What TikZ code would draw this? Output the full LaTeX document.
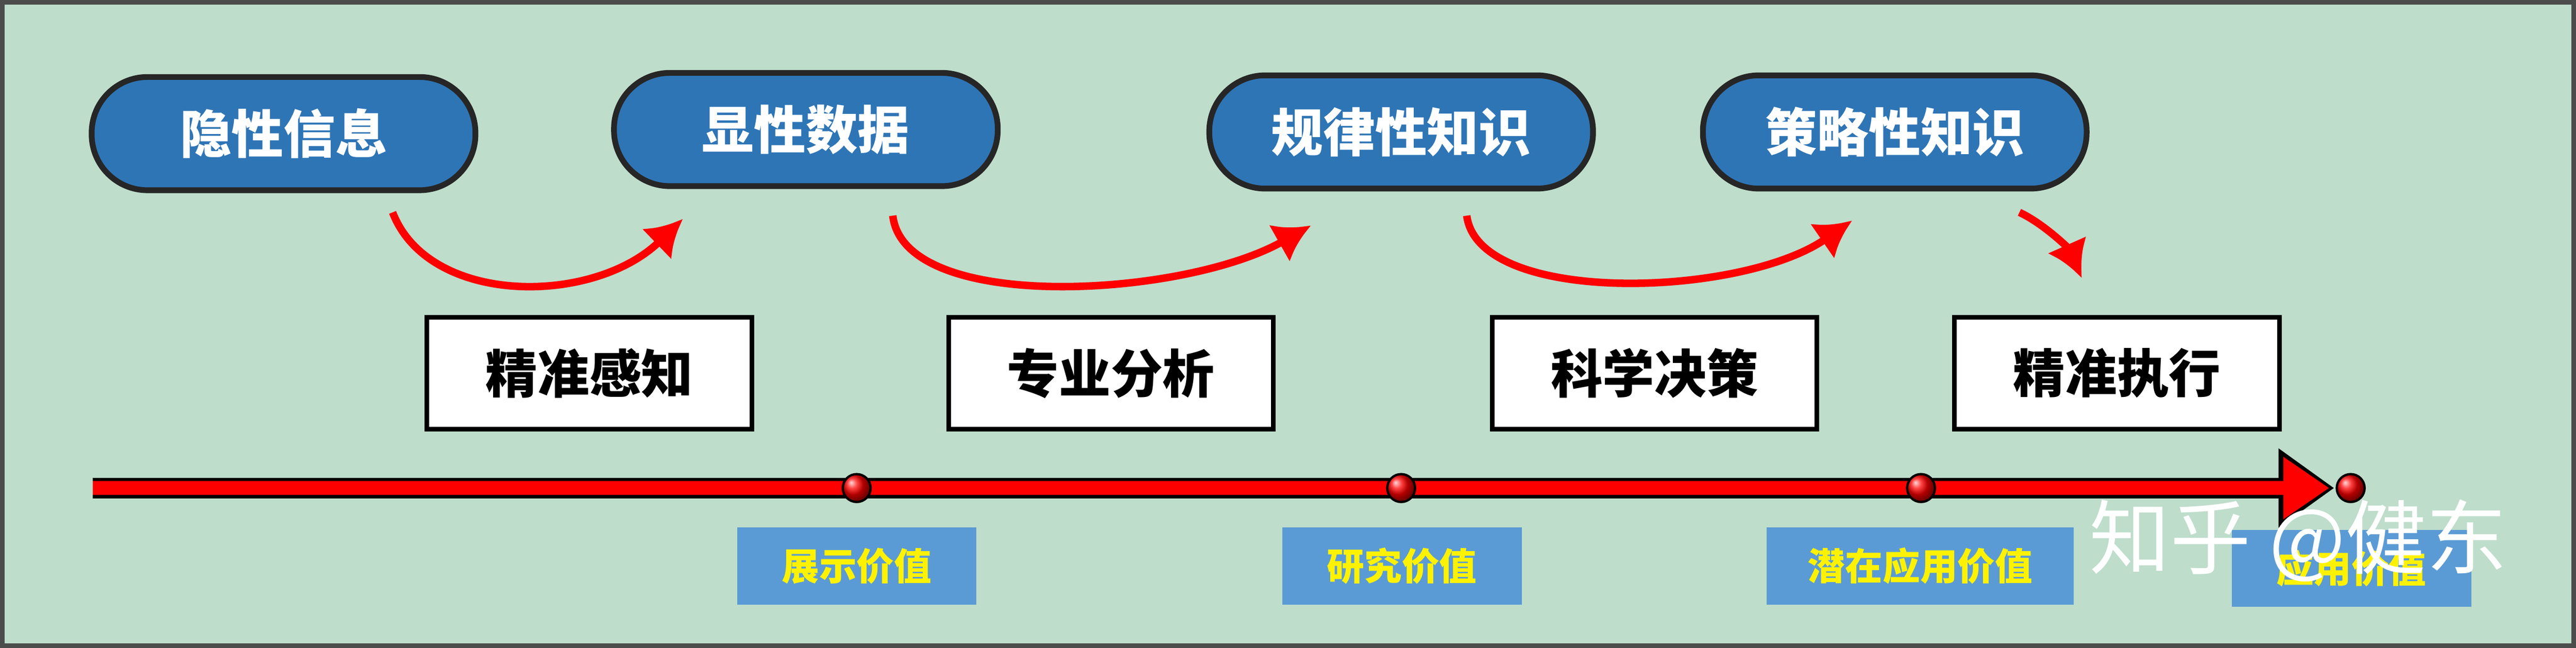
\documentclass[tikz,border=0pt]{standalone}
\usepackage{fontspec}
\setmainfont{Noto Sans CJK SC}
\usetikzlibrary{arrows.meta,shadings}
\definecolor{bgc}{HTML}{BEDDCB}
\definecolor{ovalc}{HTML}{2E75B6}
\definecolor{labc}{HTML}{5B9BD5}
\tikzset{
  stage/.style={draw=black!85,line width=1pt,fill=ovalc,rounded corners=0.34cm,minimum width=2.34cm,minimum height=0.69cm,text=white,font=\bfseries\fontsize{9}{9}\selectfont},
  task/.style={draw=black,line width=0.8pt,fill=white,minimum width=1.98cm,minimum height=0.68cm,font=\bfseries\fontsize{9}{9}\selectfont},
  worth/.style={fill=labc,minimum width=1.46cm,minimum height=0.47cm,text=yellow,font=\bfseries\fontsize{6.5}{6.5}\selectfont},
  curl/.style={red,line width=1.3pt,-{Latex[length=2.2mm,width=2.6mm]}},
  dot/.style={circle,inner sep=0pt,minimum size=0.17cm,ball color=red,draw=black,line width=0.4pt}
}
\begin{document}
\begin{tikzpicture}
\draw[fill=bgc,draw=black!70,line width=0.8pt] (0,0) rectangle (15.68,-3.92);
% stages
\node[stage] (s1) at (1.715,-0.80) {隐性信息};
\node[stage] (s2) at (4.90,-0.775) {显性数据};
\node[stage] (s3) at (8.53,-0.79) {规律性知识};
\node[stage] (s4) at (11.54,-0.79) {策略性知识};
% steps
\node[task] (p1) at (3.58,-2.26) {精准感知};
\node[task] (p2) at (6.76,-2.26) {专业分析};
\node[task] (p3) at (10.075,-2.26) {科学决策};
\node[task] (p4) at (12.895,-2.26) {精准执行};
% curved arrows
\coordinate (a1) at (2.38,-1.28); \coordinate (b1) at (4.15,-1.32);
\coordinate (a2) at (5.43,-1.30); \coordinate (b2) at (7.98,-1.36);
\coordinate (a3) at (8.93,-1.30); \coordinate (b3) at (11.28,-1.33);
\coordinate (a4) at (12.30,-1.28); \coordinate (b4) at (12.68,-1.68);
\draw[curl] (a1) .. controls (2.6,-1.85) and (3.6,-1.85) .. (b1);
\draw[curl] (a2) .. controls (5.5,-1.9) and (7.2,-1.8) .. (b2);
\draw[curl] (a3) .. controls (9.0,-1.85) and (10.6,-1.8) .. (b3);
\draw[curl] (a4) .. controls (12.45,-1.35) and (12.6,-1.5) .. (b4);
% timeline
\coordinate (t0) at (0.55,-2.96); \coordinate (t1) at (14.22,-2.96);
\draw[black,line width=3.6pt,-{Triangle[length=3.4mm,width=4.6mm]}] (t0) -- (t1);
\draw[red,line width=2.4pt,-{Triangle[length=2.8mm,width=3.6mm]}] (t0) -- ([xshift=-0.3mm]t1);
\foreach \x/\n in {5.21/d1,8.53/d2,11.70/d3,14.32/d4}
  \node[dot] (\n) at (\x,-2.96) {};
% values
\node[worth] (v1) at (5.21,-3.435) {展示价值};
\node[worth] (v2) at (8.535,-3.435) {研究价值};
\node[worth,minimum width=1.87cm] (v3) at (11.695,-3.435) {潜在应用价值};
\node[worth] (v4) at (14.325,-3.45) {应用价值};
\node[text=white,font=\fontsize{14}{14}\selectfont] (wm) at (14.0,-3.28) {知乎 @健东};
\end{tikzpicture}
\end{document}
